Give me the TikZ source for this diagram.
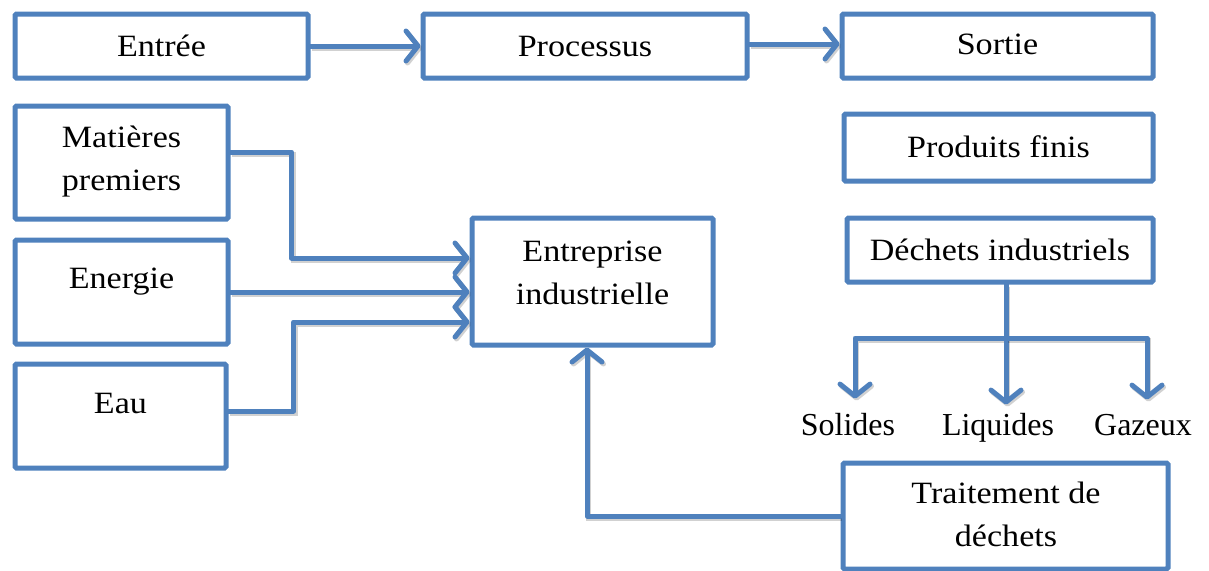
\documentclass[tikz,border=0pt]{standalone}
\usepackage{fontspec}
\setmainfont{Liberation Serif}
\newfontfamily\boxfont[FakeStretch=1.1]{Liberation Serif}
\usetikzlibrary{arrows.meta}
\definecolor{flowblue}{HTML}{4F81BD}
\tikzset{
  box/.style={draw=flowblue, line width=5pt, rounded corners=1.5pt, fill=white},
  boxtext/.style={anchor=base, align=center, inner sep=0pt,
    font=\boxfont\fontsize{31}{43}\selectfont},
  leaf/.style={anchor=base, inner sep=0pt, font=\fontsize{32}{36}\selectfont},
  link/.style={draw=flowblue, line width=5pt, line cap=round, line join=round,
    preaction={draw=black, opacity=0.18, line width=5pt,
      transform canvas={shift={(1.5pt,-2pt)}}}},
  arr/.style={link, -{Straight Barb[length=12pt,width=30pt,line width=5pt,round]}},
}
\begin{document}
\begin{tikzpicture}[x=1pt,y=-1pt]
\useasboundingbox (0,0) rectangle (1209,570);

% boxes
\node[box, minimum width=293pt, minimum height=64pt]  (entree)     at (161.5,46)  {};
\node[box, minimum width=324pt, minimum height=64pt]  (processus)  at (585,46)    {};
\node[box, minimum width=311pt, minimum height=64pt]  (sortie)     at (997.5,46)  {};
\node[box, minimum width=213pt, minimum height=113pt] (matieres)   at (121.5,162.5) {};
\node[box, minimum width=213pt, minimum height=104pt] (energie)    at (121.5,292) {};
\node[box, minimum width=211pt, minimum height=104pt] (eau)        at (120.5,416) {};
\node[box, minimum width=241pt, minimum height=127pt] (entreprise) at (592.5,281.5) {};
\node[box, minimum width=309pt, minimum height=67pt]  (produits)   at (998.5,147.5) {};
\node[box, minimum width=306pt, minimum height=64pt]  (dechets)    at (1000,250)  {};
\node[box, minimum width=325pt, minimum height=106pt] (traitement) at (1005.5,516) {};

% box texts (two-line texts sit on the baseline of their last line)
\node[boxtext] (tentree)     at (161.5,56)  {Entrée};
\node[boxtext] (tprocessus)  at (585,56)    {Processus};
\node[boxtext] (tsortie)     at (997.5,54)  {Sortie};
\node[boxtext] (tmatieres)   at (121.5,190) {Matières\\premiers};
\node[boxtext] (tenergie)    at (121.5,288) {Energie};
\node[boxtext] (teau)        at (120.5,413) {Eau};
\node[boxtext] (tentreprise) at (592.5,304) {Entreprise\\industrielle};
\node[boxtext] (tproduits)   at (998.5,157) {Produits finis};
\node[boxtext] (tdechets)    at (1000,260)  {Déchets industriels};
\node[boxtext] (ttraitement) at (1006,546)  {Traitement de\\déchets};

% waste categories
\node[leaf] (solides)  at (848,435)  {Solides};
\node[leaf] (liquides) at (998,435)  {Liquides};
\node[leaf] (gazeux)   at (1143,435) {Gazeux};

% top chain
\draw[arr] (entree.east) -- (processus.west);
\draw[arr] ([yshift=2pt]processus.east) -- ([yshift=2pt]sortie.west);

% inputs to the company
\draw[arr] ([yshift=10.5pt]matieres.east) -- ++(61,0) |- ([yshift=23.5pt]entreprise.west);
\draw[arr] (energie.east) -- (energie.east -| entreprise.west);
\draw[arr] ([yshift=5pt]eau.east) -- ++(65,0) |- ([yshift=-40.5pt]entreprise.west);

% waste split
\coordinate (fork) at (1006,338);
\draw[link] ([xshift=6pt]dechets.south) -- (fork);
\draw[arr] (fork) -| ([xshift=7pt,yshift=14pt]solides.north);
\draw[arr] (fork) -- ([yshift=8pt]fork |- liquides.north);
\draw[arr] (fork) -| ([xshift=4pt,yshift=14pt]gazeux.north);

% recycling loop
\draw[arr] (traitement.west) -| ([xshift=-5.5pt]entreprise.south);
\end{tikzpicture}
\end{document}
